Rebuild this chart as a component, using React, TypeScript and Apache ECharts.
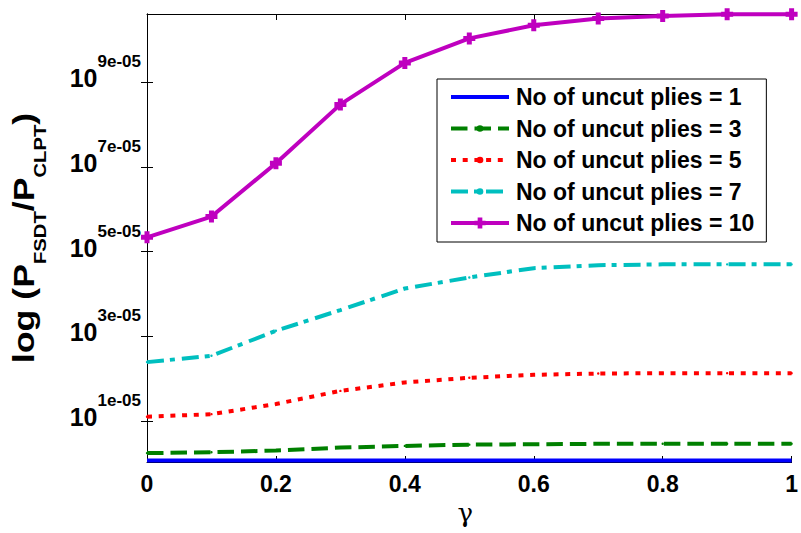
import React, { useEffect, useRef } from 'react';
import * as echarts from 'echarts';

// ---- data ----
const gammaValues = [0, 0.1, 0.2, 0.3, 0.4, 0.5, 0.6, 0.7, 0.8, 0.9, 1.0];
const seriesNames = [
  'No of uncut plies = 1',
  'No of uncut plies = 3',
  'No of uncut plies = 5',
  'No of uncut plies = 7',
  'No of uncut plies = 10',
];
const plies1 = [6.8e-7, 6.8e-7, 6.8e-7, 6.8e-7, 6.8e-7, 6.8e-7, 6.8e-7, 6.8e-7, 6.8e-7, 6.8e-7, 6.8e-7];
const plies3 = [2.4e-6, 2.6e-6, 3.0e-6, 3.7e-6, 4.1e-6, 4.4e-6, 4.5e-6, 4.6e-6, 4.6e-6, 4.6e-6, 4.6e-6];
const plies5 = [1.10e-5, 1.16e-5, 1.40e-5, 1.71e-5, 1.91e-5, 2.02e-5, 2.09e-5, 2.12e-5, 2.13e-5, 2.13e-5, 2.13e-5];
const plies7 = [2.39e-5, 2.54e-5, 3.13e-5, 3.62e-5, 4.13e-5, 4.39e-5, 4.61e-5, 4.68e-5, 4.70e-5, 4.70e-5, 4.70e-5];
const plies10 = [5.34e-5, 5.83e-5, 7.09e-5, 8.48e-5, 9.46e-5, 10.04e-5, 10.35e-5, 10.51e-5, 10.57e-5, 10.61e-5, 10.61e-5];
const yTickValues = [1e-5, 3e-5, 5e-5, 7e-5, 9e-5];
const yTickLabels = ['1e-05', '3e-05', '5e-05', '7e-05', '9e-05'];
const yMin = 3e-7;
const yMax = 1.0616e-4;
const xMin = 0;
const xMax = 1;
const xInterval = 0.2;

const FONT = 'Liberation Sans, Arial, Helvetica, sans-serif';
const PLUS = 'path://M3.5,0H8.5V3.5H12V8.5H8.5V12H3.5V8.5H0V3.5H3.5Z';
const DOT = 'path://M0,0L0.01,0M100,100L100.01,100M20,50A30,30 0 1,0 80,50A30,30 0 1,0 20,50Z';
const BLANK = 'path://M0,0L0.01,0M100,100L100.01,100';

const pairs = (ys: number[]) => gammaValues.map((x, i) => [x, ys[i]]);

export default function App() {
  const ref = useRef<HTMLDivElement>(null);
  useEffect(() => {
    if (!ref.current) return;
    const chart = echarts.init(ref.current, null, { renderer: 'svg' });
    const tickLabel = (v: number) => {
      const i = yTickValues.findIndex((t) => Math.abs(t - v) < 1e-9);
      return i >= 0 ? `{b|10}{s|${yTickLabels[i]}}` : '';
    };
    const lineSeries = (
      name: string,
      ys: number[],
      color: string,
      type: any,
      symbol: string,
      showSymbol: boolean,
      symbolSize = 12
    ) => ({
      name,
      type: 'line',
      data: pairs(ys),
      color,
      symbol,
      symbolSize,
      showSymbol,
      lineStyle: { color, width: 4, type, cap: 'butt' },
      itemStyle: { color },
      emphasis: { disabled: true },
    });
    chart.setOption({
      animation: false,
      backgroundColor: '#fff',
      grid: { left: 147, right: 6, top: 14, bottom: 71, containLabel: false },
      xAxis: [
        {
          type: 'value',
          min: xMin,
          max: xMax,
          interval: xInterval,
          position: 'bottom',
          name: 'γ',
          nameLocation: 'middle',
          nameGap: 38,
          nameTextStyle: { fontSize: 26, fontFamily: 'DejaVu Serif, serif', color: '#000', padding: [0, 8, 0, 0] },
          axisLine: { show: true, lineStyle: { color: '#000', width: 1 } },
          axisTick: { show: true, inside: true, length: 6, lineStyle: { color: '#000' } },
          axisLabel: { margin: 10, color: '#000', fontSize: 23, fontWeight: 'bold', fontFamily: FONT },
          splitLine: { show: false },
        },
        {
          type: 'value',
          min: xMin,
          max: xMax,
          interval: xInterval,
          position: 'top',
          axisLine: { show: true, lineStyle: { color: '#000', width: 1 } },
          axisTick: { show: true, inside: true, length: 6, lineStyle: { color: '#000' } },
          axisLabel: { show: false },
          splitLine: { show: false },
        },
      ],
      yAxis: [
        {
          type: 'value',
          min: yMin,
          max: yMax,
          position: 'left',
          axisLine: { show: true, lineStyle: { color: '#000', width: 1 } },
          axisTick: { show: true, inside: true, length: 6, customValues: yTickValues, lineStyle: { color: '#000' } },
          axisLabel: {
            customValues: yTickValues,
            margin: 6,
            padding: [0, 0, 8, 0],
            formatter: tickLabel,
            rich: {
              b: { fontSize: 25, fontWeight: 'bold', fontFamily: FONT, color: '#000', lineHeight: 24 },
              s: { fontSize: 17, fontWeight: 'bold', fontFamily: FONT, color: '#000', lineHeight: 18, padding: [0, 0, 33, 0] },
            },
          },
          splitLine: { show: false },
        },
        {
          type: 'value',
          min: yMin,
          max: yMax,
          position: 'right',
          axisLine: { show: true, lineStyle: { color: '#000', width: 1 } },
          axisTick: { show: true, inside: true, length: 6, customValues: yTickValues, lineStyle: { color: '#000' } },
          axisLabel: { show: false },
          splitLine: { show: false },
        },
      ],
      legend: {
        left: 437,
        top: 79,
        orient: 'vertical',
        selectedMode: false,
        backgroundColor: '#fff',
        borderColor: '#000',
        borderWidth: 1,
        borderRadius: 0,
        padding: [5, 12, 6, 12],
        itemWidth: 58,
        itemHeight: 14,
        itemGap: 5.5,
        lineStyle: { width: 4 },
        textStyle: { fontSize: 23, fontWeight: 'bold', fontFamily: FONT, color: '#000', lineHeight: 26, padding: [0, 0, 0, 2] },
        data: seriesNames,
      },
      graphic: [
        {
          type: 'text',
          x: 24,
          y: 238,
          rotation: Math.PI / 2,
          scaleX: 1.19,
          silent: true,
          style: {
            text: '{m|log (P}{s|FSDT}{m|/P}{s|CLPT}{m|)}',
            align: 'center',
            verticalAlign: 'middle',
            fill: '#000',
            rich: {
              m: { fontSize: 30, fontWeight: 'bold', fontFamily: FONT, fill: '#000', lineHeight: 32 },
              s: { fontSize: 17, fontWeight: 'bold', fontFamily: FONT, fill: '#000', lineHeight: 18, padding: [33, 0, 0, 0] },
            },
          },
        },
      ],
      series: [
        lineSeries(seriesNames[0], plies1, '#0000FF', 'solid', BLANK, false),
        lineSeries(seriesNames[1], plies3, '#008000', [16.5, 7], DOT, true, 4),
        lineSeries(seriesNames[2], plies5, '#FF0000', [5, 6.7], DOT, true, 4),
        lineSeries(seriesNames[3], plies7, '#00BFBF', [17, 6, 5, 7], DOT, true, 4),
        lineSeries(seriesNames[4], plies10, '#BF00BF', 'solid', PLUS, true, 12),
      ],
    });
    return () => chart.dispose();
  }, []);
  return (
    <div
      ref={ref}
      style={{ position: 'fixed', left: 0, top: 0, width: 801, height: 533, background: '#fff' }}
    />
  );
}
